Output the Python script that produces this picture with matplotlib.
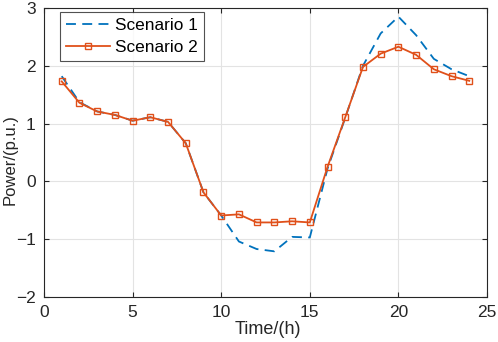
import matplotlib.pyplot as plt

plt.rcParams['font.family'] = ['Liberation Sans', 'DejaVu Sans']

hours = list(range(1, 25))
scenario1 = [1.82, 1.37, 1.21, 1.15, 1.05, 1.11, 1.03, 0.66, -0.19, -0.59,
             -1.04, -1.17, -1.21, -0.96, -0.97, 0.22, 1.10, 2.00, 2.56, 2.85,
             2.53, 2.12, 1.94, 1.82]
scenario2 = [1.73, 1.36, 1.21, 1.15, 1.05, 1.11, 1.03, 0.66, -0.19, -0.59,
             -0.57, -0.71, -0.71, -0.69, -0.71, 0.25, 1.11, 1.98, 2.21, 2.33,
             2.19, 1.94, 1.82, 1.74]

fig = plt.figure(figsize=(4.98, 3.42), dpi=100)
ax = fig.add_axes([44 / 498, 1 - 297 / 342, (487 - 44) / 498, (297 - 8) / 342])

ax.plot(hours, scenario1, '--', color='#0072BD', lw=1.3, dashes=(5.5, 3.5), label='Scenario 1')
ax.plot(hours, scenario2, '-s', color='#E0501A', lw=1.3, ms=4.5, mfc='none', mew=1.0,
        label='Scenario 2')

ax.set_xlim(0, 25)
ax.set_ylim(-2, 3)
ax.set_xticks([0, 5, 10, 15, 20, 25])
ax.set_yticks([-2, -1, 0, 1, 2, 3])
ax.grid(True, color='#e3e3e3', lw=0.8)
ax.set_axisbelow(True)
ax.tick_params(direction='in', top=True, right=True, labelsize=12.5, colors='#262626',
               length=3.5, width=0.8, pad=6)
for s in ax.spines.values():
    s.set_color('#262626')
    s.set_linewidth(0.8)

# label positions (MATLAB style placement)
ax.set_xlabel('Time/(h)', fontsize=13, color='#262626')
ax.xaxis.set_label_coords((268 - 44) / 443, -(329 - 297) / 289)
ax.xaxis.label.set_va('center')
ax.set_ylabel('Power/(p.u.)', fontsize=12, color='#262626')
ax.yaxis.set_label_coords((10 - 44) / 443, (297 - 160) / 289)
ax.yaxis.label.set_va('center')

leg = ax.legend(loc='upper left', bbox_to_anchor=(60 / 498, 1 - 12 / 342),
                bbox_transform=fig.transFigure, fontsize=12.4, frameon=True, fancybox=False,
                edgecolor='#262626', handlelength=2.6, borderpad=0.32, labelspacing=0.45,
                handletextpad=0.3, borderaxespad=0)
leg.get_frame().set_linewidth(0.8)

fig.savefig('out.png', dpi=100)
